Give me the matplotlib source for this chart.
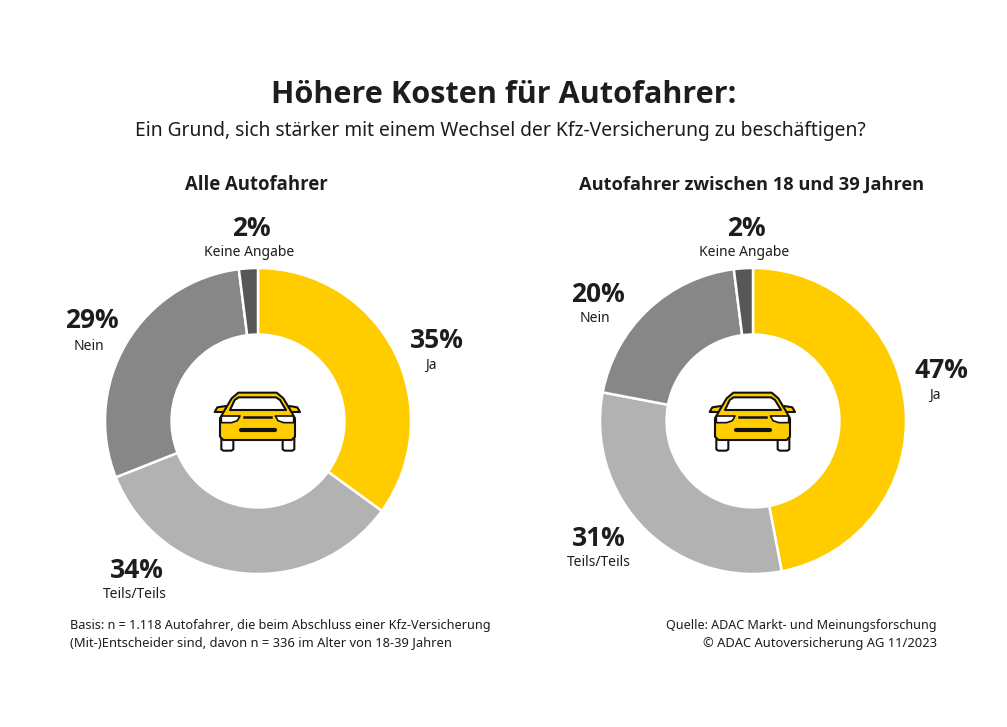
import matplotlib
matplotlib.use("Agg")
import matplotlib.pyplot as plt
from matplotlib.patches import Polygon

plt.rcParams['font.family'] = ['Noto Sans', 'DejaVu Sans']
FETT = ['Open Sans', 'DejaVu Sans']

W, H = 1007, 727

# Daten
labels = ["Ja", "Teils/Teils", "Nein", "Keine Angabe"]
alle = [35, 34, 29, 2]
jung = [47, 31, 20, 2]
farben = ["#FFCC00", "#B2B2B2", "#878787", "#575756"]

fig = plt.figure(figsize=(W / 100, H / 100), dpi=100, facecolor="white")

# Hintergrund-Achse in Pixeln fuer Texte und Auto
bg = fig.add_axes([0, 0, 1, 1])
bg.set_xlim(0, W)
bg.set_ylim(H, 0)
bg.axis("off")
bg.set_zorder(3)


def donut(werte, cx, cy, r):
    ax = fig.add_axes([(cx - r) / W, 1 - (cy + r) / H, 2 * r / W, 2 * r / H])
    ax.pie(werte, colors=farben, startangle=90, counterclock=False, radius=1,
           wedgeprops=dict(width=0.435, edgecolor="white", linewidth=1.8))
    ax.set_xlim(-1, 1)
    ax.set_ylim(-1, 1)
    ax.set_aspect("equal")
    ax.axis("off")


def car(x0, y0):
    k = "#111111"
    g = "#FFCC00"
    def P(pts, fc, lw=1.5, z=5):
        bg.add_patch(Polygon([(x0 + a / 3, y0 + b / 3) for a, b in pts], closed=True,
                             fc=fc, ec=k, lw=lw, joinstyle="round", zorder=z))
    # Raeder
    P([(94, 200), (130, 200), (130, 238), (124, 242), (100, 242), (94, 238)], "white", z=4)
    P([(278, 200), (313, 200), (313, 238), (307, 242), (284, 242), (278, 238)], "white", z=4)
    # Spiegel
    P([(74, 126), (82, 112), (108, 108), (112, 126)], g, z=4)
    P([(330, 126), (322, 112), (298, 108), (294, 126)], g, z=4)
    # Karosserie
    P([(145, 68), (260, 68), (280, 85), (302, 122), (315, 145), (315, 200), (305, 210),
       (100, 210), (90, 200), (90, 145), (103, 122), (125, 85)], g)
    # Scheibe
    P([(146, 82), (258, 82), (270, 90), (288, 120), (120, 120), (134, 90)], "white")
    # Scheinwerfer
    P([(94, 138), (150, 138), (142, 152), (125, 158), (94, 158)], "white", lw=1.2)
    P([(311, 138), (256, 138), (264, 152), (281, 158), (311, 158)], "white", lw=1.2)
    # Kuehler und Kennzeichen
    bg.plot([x0 + 162 / 3, x0 + 244 / 3], [y0 + 141 / 3] * 2, color=k, lw=1.8, zorder=6)
    bg.plot([x0 + 152 / 3, x0 + 254 / 3], [y0 + 179 / 3] * 2, color=k, lw=3, zorder=6,
            solid_capstyle="round")


donut(alle, 258, 421, 153)
donut(jung, 753, 421, 153)

car(190, 370)
car(685, 370)

txt = "#1D1D1B"
bg.text(504, 95, "Höhere Kosten für Autofahrer:", ha="center", va="center",
        fontsize=22.05, fontweight="bold", color=txt, family=FETT)
bg.text(500.5, 131, "Ein Grund, sich stärker mit einem Wechsel der Kfz-Versicherung zu beschäftigen?",
        ha="center", va="center", fontsize=13.88, color=txt)
bg.text(256.5, 185, "Alle Autofahrer", ha="center", va="center", fontsize=13.35, fontweight="bold",
        color=txt, family=FETT)
bg.text(752, 185, "Autofahrer zwischen 18 und 39 Jahren", ha="center", va="center",
        fontsize=13.15, fontweight="bold", color=txt, family=FETT)

# Position von Prozentwert und Beschriftung in Pixeln
pos_alle = [(437, 339, 431), (137, 569, 135), (92, 320, 89), (251, 227, 249)]
pos_jung = [(941, 369, 935), (599, 537, 599), (598, 293, 595), (746, 227, 744)]
for pos, werte in ((pos_alle, alle), (pos_jung, jung)):
    for (x, y, x_lab), w, lab in zip(pos, werte, labels):
        bg.text(x, y + 1, f"{w}%", ha="center", va="center", fontsize=19, fontweight="bold",
                color=txt, family=FETT)
        bg.text(x_lab, y + 26, lab, ha="center", va="center", fontsize=10, color=txt)

bg.text(70, 625, "Basis: n = 1.118 Autofahrer, die beim Abschluss einer Kfz-Versicherung",
        ha="left", va="center", fontsize=9.14, color=txt)
bg.text(70, 643, "(Mit-)Entscheider sind, davon n = 336 im Alter von 18-39 Jahren",
        ha="left", va="center", fontsize=9.3, color=txt)
bg.text(937, 625, "Quelle: ADAC Markt- und Meinungsforschung", ha="right", va="center",
        fontsize=9.04, color=txt)
bg.text(937, 643, "© ADAC Autoversicherung AG 11/2023", ha="right", va="center",
        fontsize=9.34, color=txt)

fig.savefig("out.png", dpi=100, facecolor="white")
